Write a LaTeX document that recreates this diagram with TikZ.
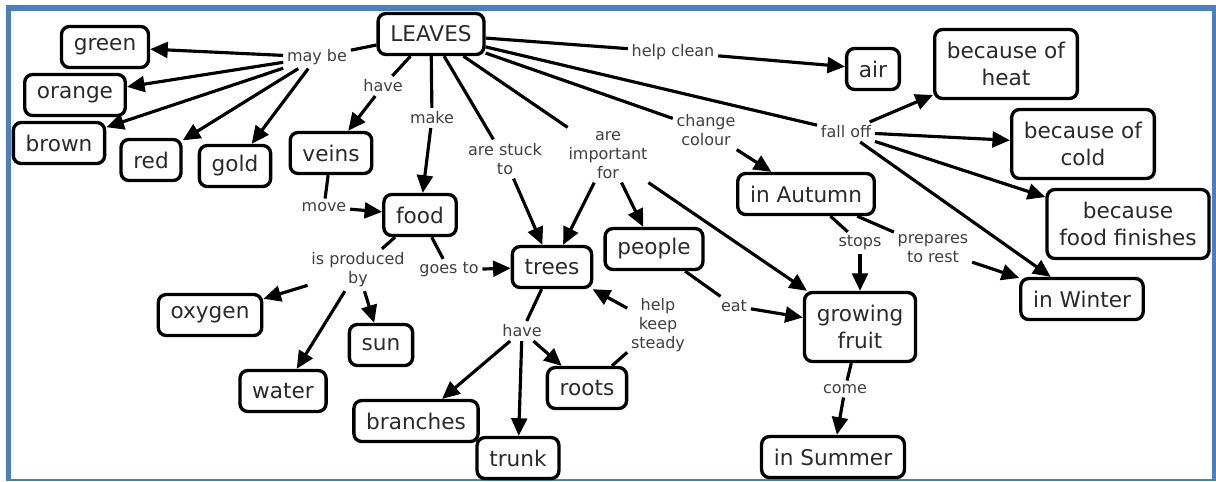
\documentclass[tikz,border=0pt]{standalone}
\usepackage{fontspec}
\setmainfont{DejaVu Sans}
\usetikzlibrary{arrows.meta}

\begin{document}
\begin{tikzpicture}[
    x=0.02cm, y=-0.02cm,
    every node/.style={font=\fontsize{12.3}{15}\selectfont},
    concept/.style={draw=black, line width=1.9pt, rounded corners=4.5pt,
        text=boxtext, inner xsep=7pt, inner ysep=2pt,
        minimum height=0.82cm, align=center},
    tall/.style={minimum height=1.38cm},
    linkword/.style={font=\fontsize{9.1}{10.9}\selectfont, text=linktext,
        inner sep=2pt, align=center},
    link/.style={line width=1.8pt},
    arrow/.style={line width=1.8pt, -{Triangle[length=10pt,width=9pt]}},
]

\definecolor{frameblue}{HTML}{4A7FC0}   % the frame round the map
\definecolor{boxtext}{HTML}{2A2A2A}
\definecolor{linktext}{HTML}{404040}

\useasboundingbox (0,0) rectangle (1216,481);

% ================================================================
%   coordinates are pixels of the 1216 x 481 map, y going down
% ================================================================

% ---------------------------------------------------------------- frame
\fill[frameblue] (6,5) rectangle (1216,481);
\fill[white] (11,11) rectangle (1212,479);

% ---------------------------------------------------------------- concepts
\node[concept] (leaves)   at (431,34)  {LEAVES};
\node[concept] (green)    at (105,47)  {green};
\node[concept] (orange)   at (75,95)   {orange};
\node[concept] (brown)    at (59,143)  {brown};
\node[concept] (red)      at (151,160) {red};
\node[concept] (gold)     at (235,166) {gold};
\node[concept] (veins)    at (331,153) {veins};
\node[concept] (food)     at (420,215) {food};
\node[concept] (oxygen)   at (210,315) {oxygen};
\node[concept] (sun)      at (381,345) {sun};
\node[concept] (water)    at (283,391) {water};
\node[concept] (trees)    at (552,267) {trees};
\node[concept] (branches) at (416,421) {branches};
\node[concept] (trunk)    at (518,458) {trunk};
\node[concept] (roots)    at (587,388) {roots};
\node[concept] (people)   at (654,249) {people};
\node[concept] (air)      at (873,69)  {air};
\node[concept,tall] (heat)   at (1006,64)  {because of\\heat};
\node[concept,tall] (cold)   at (1083,144) {because of\\cold};
\node[concept,tall] (finish) at (1128,224) {because\\food finishes};
\node[concept] (winter)   at (1082,299) {in Winter};
\node[concept] (autumn)   at (806,194) {in Autumn};
\node[concept,tall] (fruit)  at (860,327) {growing\\fruit};
\node[concept] (summer)   at (833,457) {in Summer};

% ---------------------------------------------------------------- linking words
\node[linkword] (maybe)     at (317,57)  {may be};
\node[linkword] (have1)     at (383,86)  {have};
\node[linkword] (make)      at (432,118) {make};
\node[linkword] (stuck)     at (505,159) {are stuck\\to};
\node[linkword] (important) at (608,155) {are\\important\\for};
\node[linkword] (change)    at (706,130) {change\\colour};
\node[linkword] (clean)     at (673,52)  {help clean};
\node[linkword] (falloff)   at (846,132) {fall off};
\node[linkword] (stops)     at (860,243) {stops};
\node[linkword] (prepares)  at (933,249) {prepares\\to rest};
\node[linkword] (move)      at (324,207) {move};
\node[linkword] (produced)  at (358,270) {is produced\\by};
\node[linkword] (goesto)    at (449,270) {goes to};
\node[linkword] (have2)     at (522,331) {have};
\node[linkword] (steady)    at (658,325) {help\\keep\\steady};
\node[linkword] (eat)       at (734,306) {eat};
\node[linkword] (come)      at (845,389) {come};

% ---------------------------------------------------------------- concept -- linking word
\foreach \a/\b in {leaves/maybe, leaves/have1, leaves/make, leaves/stuck,
    leaves/important, leaves/change, leaves/clean, leaves/falloff,
    veins/move, food/produced, food/goesto, trees/have2, roots/steady,
    people/eat, autumn/stops, autumn/prepares, fruit/come}
  \draw[link] (\a) -- (\b);

% ---------------------------------------------------------------- linking word -> concept
\foreach \a/\b in {maybe/green, maybe/orange, maybe/brown, maybe/red,
    maybe/gold, have1/veins, make/food, stuck/trees, important/trees,
    important/people, important/fruit, change/autumn, clean/air,
    falloff/heat, falloff/cold, falloff/finish, falloff/winter,
    move/food, produced/oxygen, produced/water, produced/sun,
    goesto/trees, have2/branches, have2/trunk, have2/roots,
    steady/trees, eat/fruit, stops/fruit, prepares/winter, come/summer}
  \draw[arrow] (\a) -- (\b);

\end{tikzpicture}
\end{document}
